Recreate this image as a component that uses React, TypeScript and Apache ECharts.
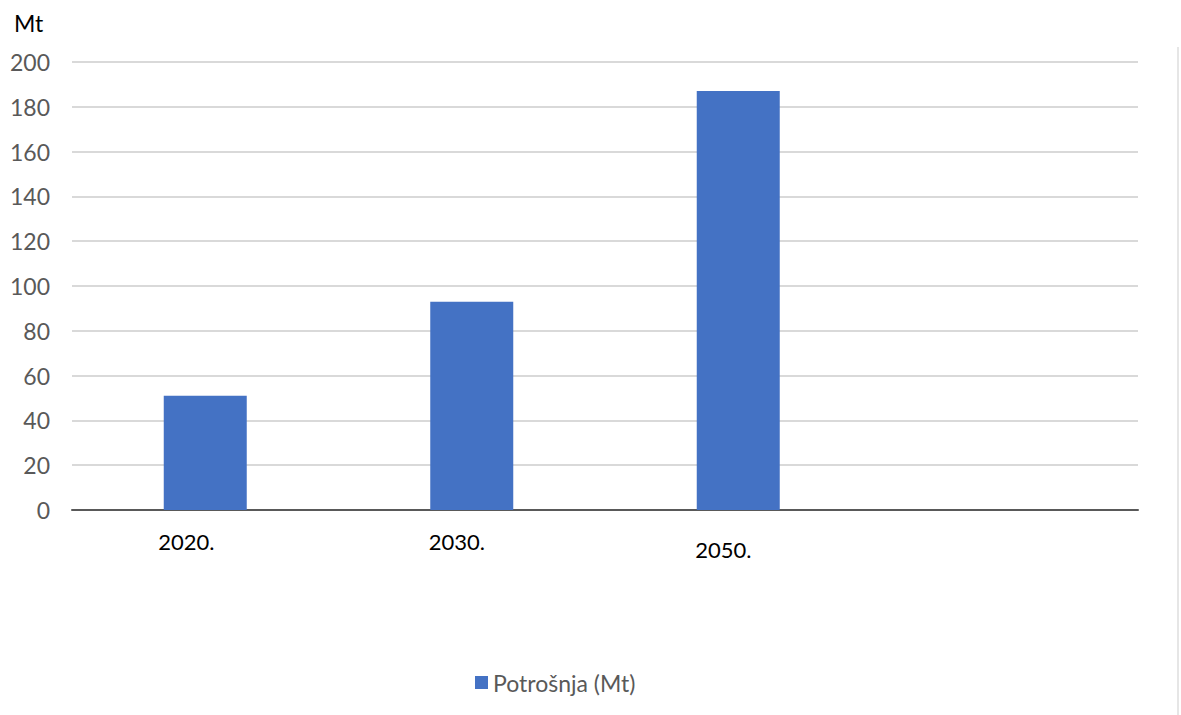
import React, { useEffect, useRef } from "react";
import * as echarts from "echarts";

const categories = ["2020.", "2030.", "2050.", ""];
const consumption = [51, 93, 187, null];
const yTicks = { min: 0, max: 200, interval: 20 };
const seriesName = "Potrošnja (Mt)";
const unitTitle = "Mt";

export default function App() {
  const ref = useRef<HTMLDivElement>(null);
  useEffect(() => {
    if (!ref.current) return;
    const chart = echarts.init(ref.current, null, { renderer: "svg" });
    const font = "Lato, 'Open Sans', sans-serif";
    const labelPads = [
      [20, 38, 0, 0],
      [20, 30, 0, 0],
      [28, 30, 0, 0],
      [0, 0, 0, 0],
    ];
    chart.setOption({
      animation: false,
      backgroundColor: "#ffffff",
      textStyle: { fontFamily: font },
      title: {
        text: unitTitle,
        left: 9,
        top: 6,
        textStyle: { fontSize: 23, fontWeight: "normal", color: "#000000", fontFamily: font },
      },
      grid: { left: 72, right: 43, top: 62, bottom: 205, containLabel: false },
      legend: {
        data: [seriesName],
        left: 470,
        top: 666,
        icon: "rect",
        itemWidth: 13,
        itemHeight: 13,
        itemGap: 8,
        textStyle: { fontSize: 23, color: "#595959", fontFamily: font },
      },
      xAxis: {
        type: "category",
        data: categories.map((c, i) => ({
          value: c,
          textStyle: { padding: labelPads[i] },
        })),
        axisLine: { lineStyle: { color: "#595959", width: 2 } },
        axisTick: { show: false },
        axisLabel: { fontSize: 22, color: "#000000", fontFamily: font, margin: 0 },
      },
      yAxis: {
        type: "value",
        min: yTicks.min,
        max: yTicks.max,
        interval: yTicks.interval,
        axisLine: { show: false },
        axisTick: { show: false },
        axisLabel: { fontSize: 23, color: "#595959", fontFamily: font, margin: 22 },
        splitLine: { lineStyle: { color: "#d9d9d9", width: 2 } },
      },
      graphic: [
        {
          type: "line",
          shape: { x1: 1178, y1: 47, x2: 1178, y2: 715 },
          style: { stroke: "#e6e6e6", lineWidth: 2 },
        },
      ],
      series: [
        {
          name: seriesName,
          type: "bar",
          data: consumption,
          barWidth: 83,
          itemStyle: { color: "#4472C4" },
        },
      ],
    });
    return () => chart.dispose();
  }, []);
  return (
    <div
      ref={ref}
      style={{ position: "fixed", left: 0, top: 0, width: 1181, height: 715 }}
    />
  );
}
